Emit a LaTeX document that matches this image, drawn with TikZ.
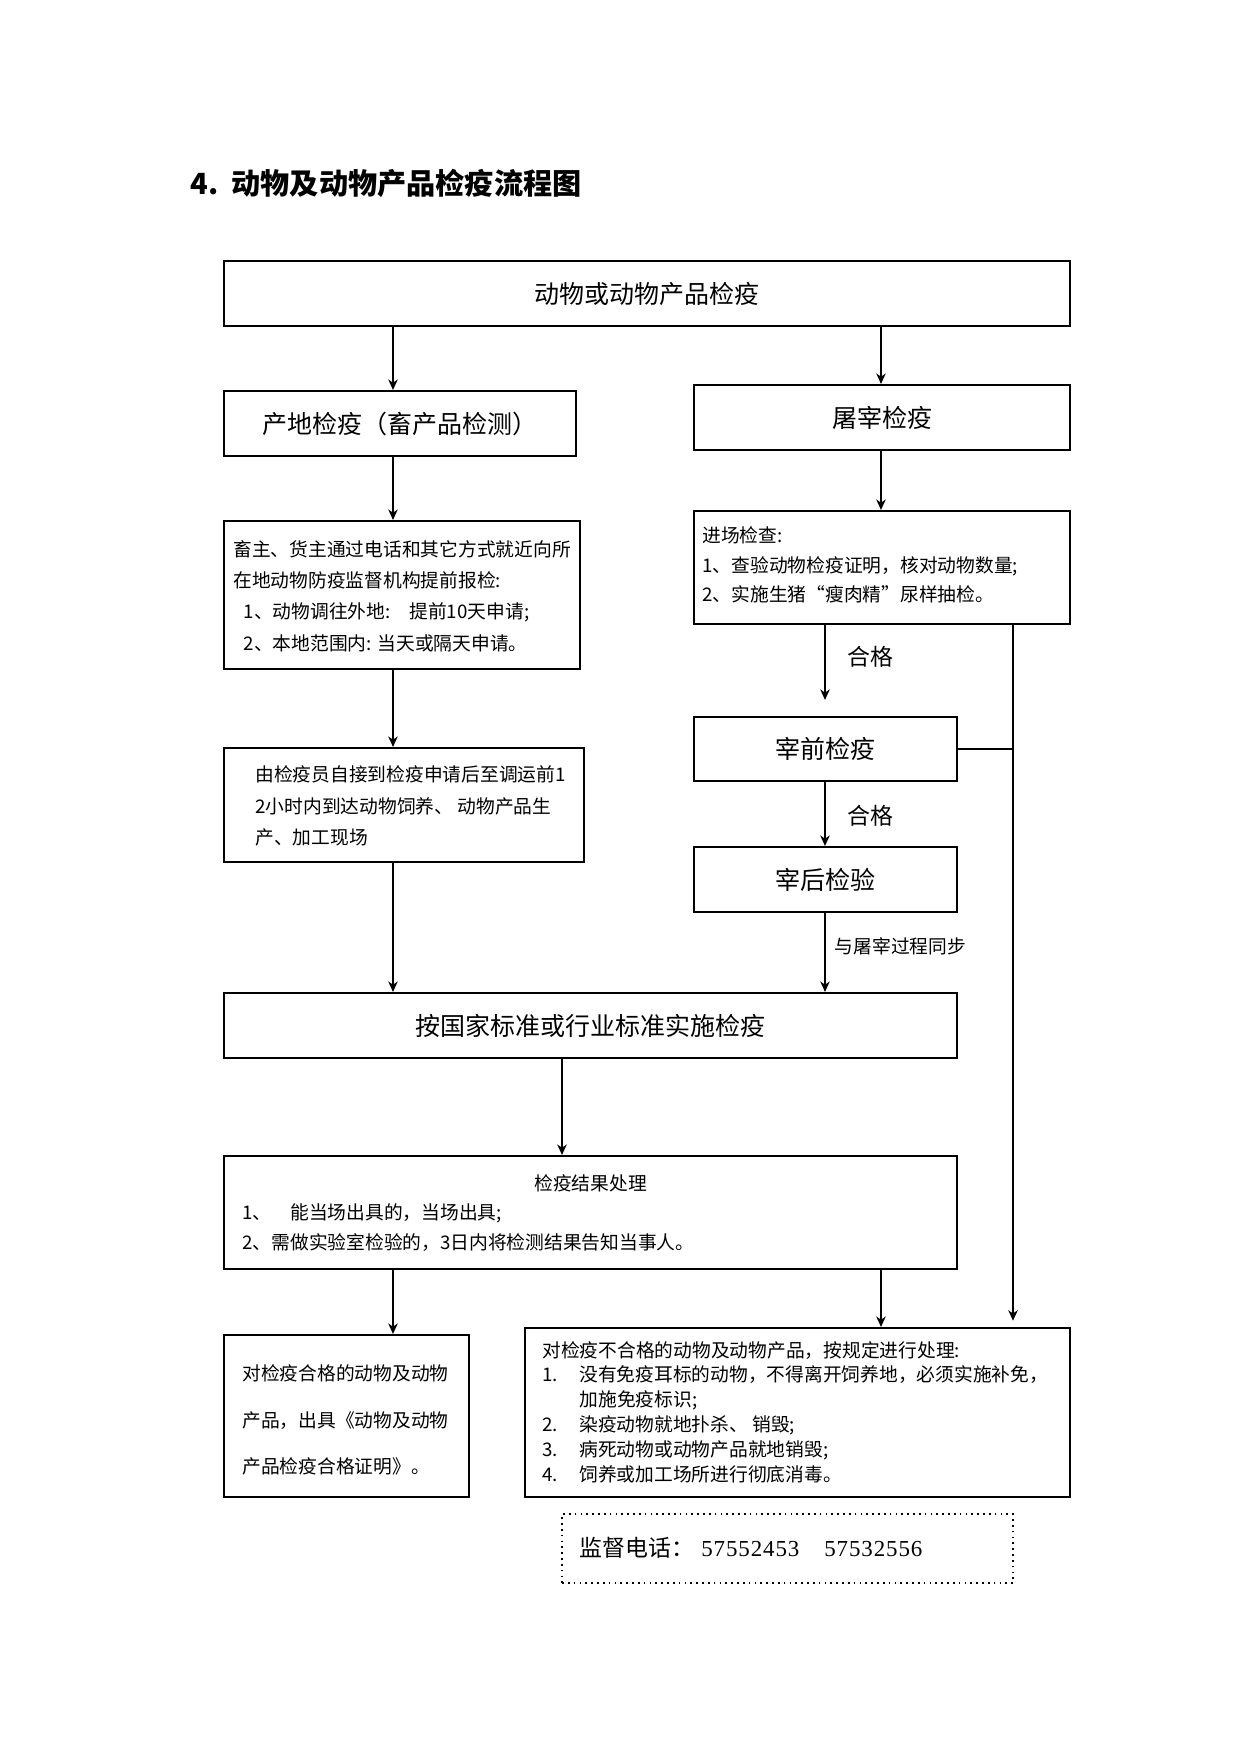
\documentclass[tikz,border=0pt]{standalone}
\usepackage{fontspec}
\setmainfont{Noto Sans CJK SC}
\newfontfamily\numfont[LetterSpace=4]{Liberation Serif}
\usetikzlibrary{arrows.meta}
\newcommand{\pxl}[1]{#1*0.48pt}

\begin{document}
\begin{tikzpicture}[x=0.48pt,y=-0.48pt,
  box/.style={draw,line width=1pt,inner sep=0pt},
  bigtxt/.style={font=\fontsize{12pt}{14pt}\selectfont},
  smalltxt/.style={align=left,inner sep=0pt,anchor=west},
  arr/.style={-{Stealth[length=5pt,width=4.5pt,inset=1.5pt]},line width=0.8pt},
  thickarr/.style={arr,line width=1.3pt}]
\useasboundingbox (0,0) rectangle (1241,1754);

% title
\node[anchor=west,inner sep=0pt,font=\fontsize{14pt}{16pt}\selectfont\bfseries] (title) at (190,183) {4.\hspace{6.3pt}动物及动物产品检疫流程图};

% columns for the connectors
\coordinate (colL) at (393,0);
\coordinate (colR) at (881,0);
\coordinate (colM) at (825,0);
\coordinate (colZ) at (1013,0);
\coordinate (colC) at (562,0);

% boxes
\node[box,bigtxt,minimum width=\pxl{846},minimum height=\pxl{65}] (top) at (647,293.5) {动物或动物产品检疫};
\node[box,bigtxt,minimum width=\pxl{352},minimum height=\pxl{65}] (chandi) at (400,423.5) {产地检疫（畜产品检测）};
\node[box,bigtxt,minimum width=\pxl{376},minimum height=\pxl{65}] (tuzai) at (882,417.5) {屠宰检疫};
\node[box,minimum width=\pxl{356},minimum height=\pxl{148}] (xumu) at (402,595) {};
\node[box,minimum width=\pxl{376},minimum height=\pxl{113}] (jinchang) at (882,567.5) {};
\node[box,minimum width=\pxl{360},minimum height=\pxl{114}] (jianyiyuan) at (404,805) {};
\node[box,bigtxt,minimum width=\pxl{263},minimum height=\pxl{64}] (zaiqian) at (825.5,749) {宰前检疫};
\node[box,bigtxt,minimum width=\pxl{263},minimum height=\pxl{65}] (zaihou) at (825.5,879.5) {宰后检验};
\node[box,bigtxt,minimum width=\pxl{733},minimum height=\pxl{65}] (guojia) at (590.5,1025.5) {按国家标准或行业标准实施检疫};
\node[box,minimum width=\pxl{733},minimum height=\pxl{113}] (jieguo) at (590.5,1212.5) {};
\node[box,minimum width=\pxl{245},minimum height=\pxl{162}] (hege) at (346.5,1416) {};
\node[box,minimum width=\pxl{545},minimum height=\pxl{169}] (buhege) at (797.5,1412.5) {};
\node[draw,dotted,line width=0.8pt,inner sep=0pt,minimum width=\pxl{451},minimum height=\pxl{69}] (phone) at (787.5,1548.5) {};

% texts in the boxes
\node[smalltxt,font=\fontsize{9pt}{15pt}\selectfont] (xumu-t) at (233,596) {畜主、货主通过电话和其它方式就近向所\\在地动物防疫监督机构提前报检:\\\hspace*{5pt}1、动物调往外地:\hspace{9pt}提前10天申请;\\\hspace*{5pt}2、本地范围内: 当天或隔天申请。};
\node[smalltxt,font=\fontsize{9pt}{14.2pt}\selectfont] (jinchang-t) at (702,565) {进场检查:\\1、查验动物检疫证明，核对动物数量;\\2、实施生猪“瘦肉精”尿样抽检。};
\node[smalltxt,font=\fontsize{9pt}{15pt}\selectfont] (jianyiyuan-t) at (255,806) {由检疫员自接到检疫申请后至调运前1\\2小时内到达动物饲养、 动物产品生\\产、加工现场};
\node[inner sep=0pt,font=\fontsize{9pt}{11pt}\selectfont] (jieguo-h) at (590.5,1183) {检疫结果处理};
\node[smalltxt,font=\fontsize{9pt}{14.4pt}\selectfont] (jieguo-t) at (242,1228) {1、\hspace{9pt}能当场出具的，当场出具;\\2、需做实验室检验的，3日内将检测结果告知当事人。};
\node[smalltxt,font=\fontsize{9pt}{22.3pt}\selectfont] (hege-t) at (242,1420) {对检疫合格的动物及动物\\产品，出具《动物及动物\\产品检疫合格证明》。};
\node[smalltxt,font=\fontsize{9pt}{11.9pt}\selectfont] (buhege-t) at (542,1412) {对检疫不合格的动物及动物产品，按规定进行处理:\\\makebox[17.8pt][l]{1.}没有免疫耳标的动物，不得离开饲养地，必须实施补免，\\\hspace*{17.8pt}加施免疫标识;\\\makebox[17.8pt][l]{2.}染疫动物就地扑杀、 销毁;\\\makebox[17.8pt][l]{3.}病死动物或动物产品就地销毁;\\\makebox[17.8pt][l]{4.}饲养或加工场所进行彻底消毒。};
\node[smalltxt,font=\fontsize{11pt}{13pt}\selectfont] (phone-t) at (579,1548) {监督电话：\hspace{3.5pt}{\numfont 57552453\hspace{12pt}57532556}};

% connectors
\draw[arr] (top.south -| colL) -- (chandi.north -| colL);
\draw[arr] (top.south -| colR) -- (tuzai.north -| colR);
\draw[arr] (chandi.south -| colL) -- (xumu.north -| colL);
\draw[arr] (tuzai.south -| colR) -- (jinchang.north -| colR);
\draw[arr] (xumu.south -| colL) -- (jianyiyuan.north -| colL);
\draw[arr] (jianyiyuan.south -| colL) -- (guojia.north -| colL);
\draw[thickarr,shorten >=7.7pt] (jinchang.south -| colM) -- node[pos=0.35,anchor=west,xshift=7pt,font=\fontsize{11pt}{13pt}\selectfont] (ok1) {合格} (zaiqian.north -| colM);
\draw[thickarr] (zaiqian.south -| colM) -- node[pos=0.52,anchor=west,xshift=7pt,font=\fontsize{11pt}{13pt}\selectfont] (ok2) {合格} (zaihou.north -| colM);
\draw[arr] (zaihou.south -| colM) -- node[pos=0.42,anchor=west,xshift=1pt,font=\fontsize{9pt}{11pt}\selectfont] (sync) {与屠宰过程同步} (guojia.north -| colM);
\draw[thickarr,shorten >=3pt] (jinchang.south -| colZ) -- (buhege.north -| colZ);
\draw[line width=1.3pt] (zaiqian.east) -- (zaiqian.east -| colZ);
\draw[thickarr] (guojia.south -| colC) -- (jieguo.north -| colC);
\draw[arr] (jieguo.south -| colL) -- (hege.north -| colL);
\draw[arr] (jieguo.south -| colR) -- (buhege.north -| colR);
\end{tikzpicture}
\end{document}
